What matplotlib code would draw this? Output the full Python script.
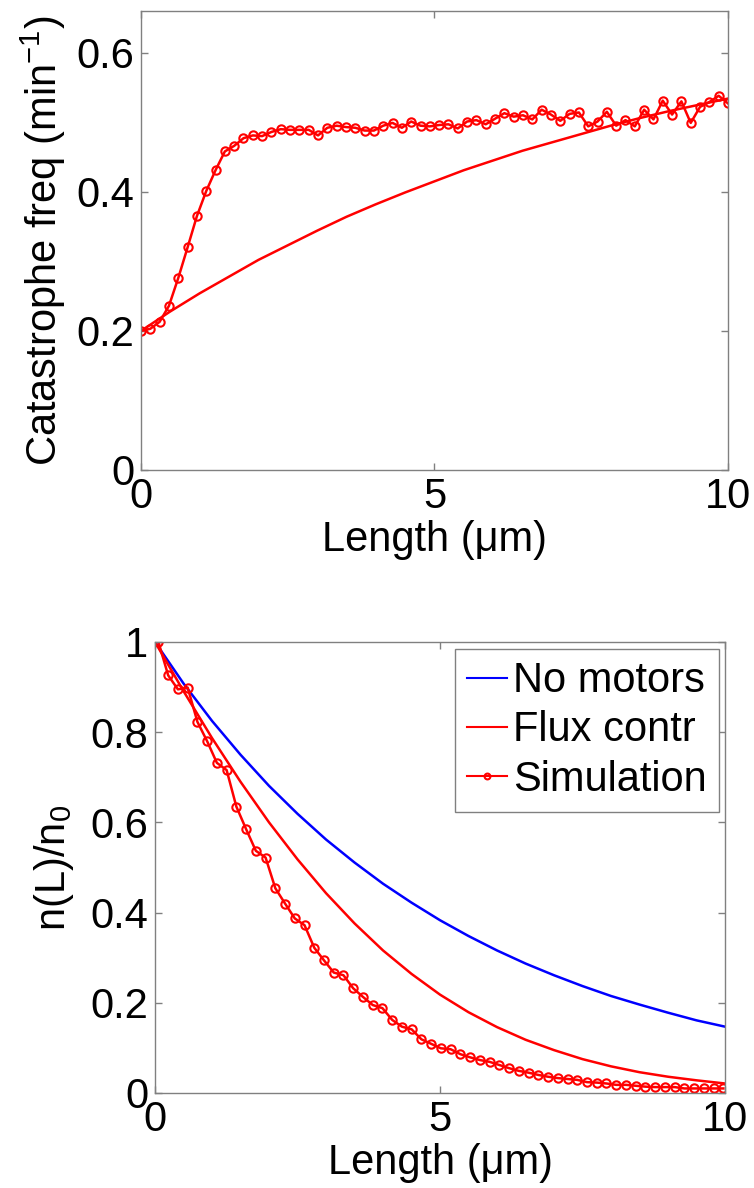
import numpy as np
import matplotlib
matplotlib.use("Agg")
import matplotlib.pyplot as plt
from matplotlib.ticker import FuncFormatter

plt.rcParams['font.family'] = ['Liberation Sans', 'DejaVu Sans']
plt.rcParams['mathtext.fontset'] = 'custom'
plt.rcParams['mathtext.rm'] = 'Liberation Sans'

# ---- top panel: catastrophe frequency vs length ----
L_sim_top = np.linspace(0, 10, 64)
cat_sim = [0.200, 0.203, 0.213, 0.236, 0.276, 0.320, 0.365, 0.401, 0.431, 0.458,
           0.466, 0.477, 0.481, 0.480, 0.486, 0.490, 0.489, 0.489, 0.489, 0.481,
           0.492, 0.495, 0.493, 0.492, 0.488, 0.488, 0.495, 0.499, 0.492, 0.501,
           0.495, 0.494, 0.496, 0.497, 0.491, 0.501, 0.503, 0.497, 0.505, 0.513,
           0.508, 0.510, 0.504, 0.518, 0.511, 0.502, 0.512, 0.514, 0.494, 0.501,
           0.515, 0.495, 0.503, 0.494, 0.518, 0.504, 0.531, 0.511, 0.530, 0.499,
           0.522, 0.529, 0.538, 0.527]

L_theory = np.arange(0, 10.01, 0.5)
cat_theory = [0.200, 0.228, 0.254, 0.278, 0.302, 0.323, 0.344, 0.364, 0.382, 0.399,
              0.415, 0.431, 0.445, 0.459, 0.471, 0.483, 0.495, 0.506, 0.516, 0.525,
              0.534]

# ---- bottom panel: n(L)/n0 ----
L_sim_bot = np.linspace(0.06, 9.97, 59)
n_sim = [1.000, 0.926, 0.895, 0.899, 0.823, 0.780, 0.732, 0.716, 0.635, 0.585,
         0.537, 0.522, 0.454, 0.420, 0.387, 0.372, 0.322, 0.294, 0.267, 0.261,
         0.232, 0.213, 0.195, 0.188, 0.162, 0.147, 0.141, 0.119, 0.109, 0.099,
         0.097, 0.086, 0.079, 0.073, 0.069, 0.062, 0.055, 0.049, 0.045, 0.040,
         0.036, 0.033, 0.031, 0.029, 0.024, 0.023, 0.021, 0.018, 0.018, 0.016,
         0.014, 0.013, 0.013, 0.013, 0.010, 0.010, 0.010, 0.010, 0.010]

n_no_motors = [1.000, 0.908, 0.825, 0.750, 0.681, 0.619, 0.562, 0.511, 0.464, 0.422,
               0.383, 0.348, 0.316, 0.287, 0.261, 0.237, 0.215, 0.196, 0.178, 0.161,
               0.147]
n_flux = [1.000, 0.891, 0.787, 0.690, 0.600, 0.518, 0.443, 0.376, 0.316, 0.264,
          0.218, 0.179, 0.146, 0.118, 0.095, 0.075, 0.059, 0.046, 0.036, 0.028,
          0.021]

FS = 30
GRAY = '#808080'
fmt = FuncFormatter(lambda v, p: f"{v:g}")


def style_axes(ax):
    for sp in ax.spines.values():
        sp.set_color(GRAY)
        sp.set_linewidth(1.0)
    ax.tick_params(direction='in', top=True, right=True, length=5, width=1,
                   color=GRAY, labelsize=FS, pad=5)
    ax.yaxis.set_major_formatter(fmt)
    ax.xaxis.set_major_formatter(fmt)


fig = plt.figure(figsize=(7.54, 11.88), dpi=100)

ax1 = fig.add_axes([0.187, 0.6044, 0.7785, 0.3864])
ax1.plot(L_theory, cat_theory, color='r', lw=1.8)
ax1.plot(L_sim_top, cat_sim, '-o', color='r', lw=1.8, ms=6, mfc='none', mew=1.5)
ax1.set_xlim(0, 10)
ax1.set_ylim(0, 0.66)
ax1.set_xticks([0, 5, 10])
ax1.set_yticks([0, 0.2, 0.4, 0.6])
style_axes(ax1)
ax1.set_xlabel('Length (μm)', fontsize=FS, labelpad=2)
ax1.set_ylabel(r'Catastrophe freq (min$^{\mathregular{-1}}$)', fontsize=FS, labelpad=6)

ax2 = fig.add_axes([0.2056, 0.080, 0.756, 0.3796])
ax2.plot(L_theory, n_no_motors, color='b', lw=1.8, label='No motors')
ax2.plot(L_theory, n_flux, color='r', lw=1.8, label='Flux contr')
ax2.plot(L_sim_bot, n_sim, '-o', color='r', lw=1.8, ms=6, mfc='none', mew=1.5,
         label='Simulation')
ax2.set_xlim(0, 10)
ax2.set_ylim(0, 1)
ax2.set_xticks([0, 5, 10])
ax2.set_yticks([0, 0.2, 0.4, 0.6, 0.8, 1])
style_axes(ax2)
ax2.set_xlabel('Length (μm)', fontsize=FS, labelpad=2)
ax2.set_ylabel(r'n(L)/n$_{\mathregular{0}}$', fontsize=FS, labelpad=10)

leg = ax2.legend(loc='upper right', bbox_to_anchor=(0.99, 0.985), borderaxespad=0,
                 fontsize=FS, fancybox=False, framealpha=1, handlelength=0.95,
                 handletextpad=0.15, labelspacing=0.22, borderpad=0.3,
                 markerscale=0.7, numpoints=1)
leg.get_frame().set_edgecolor(GRAY)
leg.get_frame().set_linewidth(1.0)
for h in leg.get_lines():
    h.set_linewidth(1.5)

fig.savefig('out.png', dpi=100)
